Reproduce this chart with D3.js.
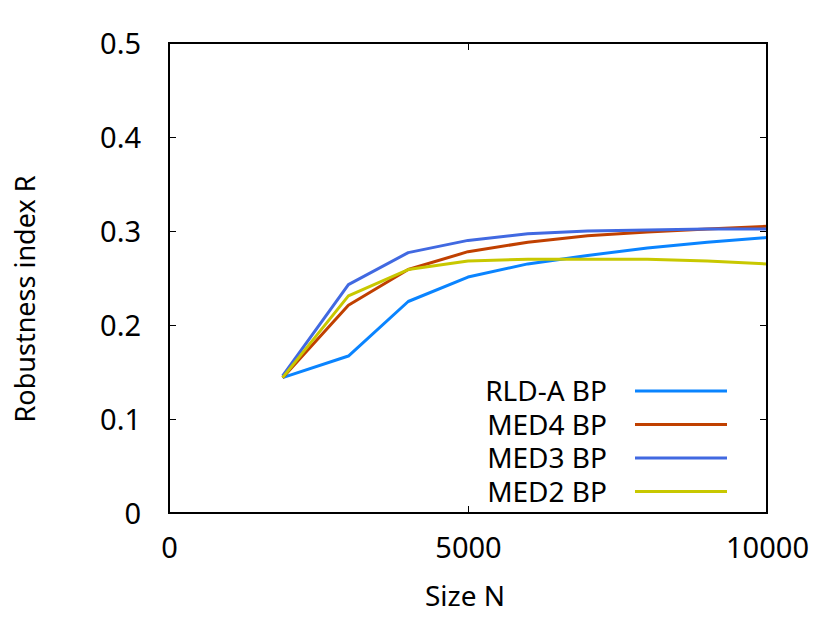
<!DOCTYPE html>
<html>
<head>
<meta charset="utf-8">
<script src="https://cdn.jsdelivr.net/npm/d3@7"></script>
<style>
body { margin: 0; background: #fff; }
text { font-family: "Noto Sans", sans-serif; fill: #000; }
</style>
</head>
<body>
<svg id="chart" width="830" height="623"></svg>
<script>
var sizes = [1900, 3000, 4000, 5000, 6000, 7000, 8000, 9000, 10000];
var rldA = [0.144, 0.167, 0.225, 0.251, 0.265, 0.274, 0.282, 0.288, 0.293];
var med4 = [0.144, 0.221, 0.259, 0.278, 0.288, 0.295, 0.299, 0.302, 0.305];
var med3 = [0.146, 0.243, 0.277, 0.290, 0.297, 0.300, 0.301, 0.302, 0.302];
var med2 = [0.144, 0.231, 0.259, 0.268, 0.270, 0.270, 0.270, 0.268, 0.265];
var seriesNames = ["RLD-A BP", "MED4 BP", "MED3 BP", "MED2 BP"];
var seriesColors = ["#0a84ff", "#c04000", "#4169e1", "#c8c800"];
var xTicks = [0, 5000, 10000];
var yTicks = [0, 0.1, 0.2, 0.3, 0.4, 0.5];

var svg = d3.select("#chart");
var pLeft = 169, pRight = 767, pTop = 43, pBottom = 513;

var x = d3.scaleLinear().domain([0, 10000]).range([pLeft, pRight]);
var y = d3.scaleLinear().domain([0, 0.5]).range([pBottom, pTop]);

var allSeries = [rldA, med4, med3, med2];

svg.append("defs").append("clipPath").attr("id", "clip")
  .append("rect").attr("x", pLeft).attr("y", pTop)
  .attr("width", pRight - pLeft).attr("height", pBottom - pTop);

var line = d3.line()
  .x(function (d, i) { return x(sizes[i]); })
  .y(function (d) { return y(d); });

svg.append("g").attr("clip-path", "url(#clip)")
  .selectAll("path")
  .data(allSeries)
  .join("path")
  .attr("fill", "none")
  .attr("stroke", function (d, i) { return seriesColors[i]; })
  .attr("stroke-width", 3)
  .attr("stroke-linejoin", "round")
  .attr("d", line);

// axes, ticks pointing inward (mirrored like gnuplot)
var yAxis = d3.axisLeft(y).tickValues(yTicks).tickSize(-7)
  .tickFormat(function (d) { return d === 0 ? "0" : d3.format(".1f")(d); });
var gy = svg.append("g").attr("transform", "translate(" + pLeft + ",0)").call(yAxis);
gy.select(".domain").remove();
gy.selectAll("text").attr("x", -28).attr("dy", "0.36em").style("font-size", "29px");

var yAxisR = d3.axisRight(y).tickValues(yTicks).tickSize(-7).tickFormat("");
var gyr = svg.append("g").attr("transform", "translate(" + pRight + ",0)").call(yAxisR);
gyr.select(".domain").remove();

var xAxis = d3.axisBottom(x).tickValues(xTicks).tickSize(-7)
  .tickFormat(d3.format("d"));
var gx = svg.append("g").attr("transform", "translate(0," + pBottom + ")").call(xAxis);
gx.select(".domain").remove();
gx.selectAll("text").attr("y", 45).attr("dy", 0).style("font-size", "29px");

var xAxisT = d3.axisTop(x).tickValues(xTicks).tickSize(-7).tickFormat("");
var gxt = svg.append("g").attr("transform", "translate(0," + pTop + ")").call(xAxisT);
gxt.select(".domain").remove();

svg.selectAll(".tick line").attr("stroke", "#000").attr("stroke-width", 1);

// frame
svg.append("rect")
  .attr("x", pLeft).attr("y", pTop)
  .attr("width", pRight - pLeft).attr("height", pBottom - pTop)
  .attr("fill", "none").attr("stroke", "#000").attr("stroke-width", 2);

// axis labels
svg.append("text")
  .attr("x", 465).attr("y", 606)
  .attr("text-anchor", "middle")
  .style("font-size", "28px")
  .text("Size N");

svg.append("text")
  .attr("transform", "translate(35,299) rotate(-90)")
  .attr("text-anchor", "middle")
  .style("font-size", "27px")
  .text("Robustness index R");

// legend
var legend = svg.append("g")
  .selectAll("g")
  .data(seriesNames)
  .join("g")
  .attr("transform", function (d, i) { return "translate(0," + (391 + i * 33.5) + ")"; });

legend.append("text")
  .attr("x", 607).attr("dy", "0.36em")
  .attr("text-anchor", "end")
  .style("font-size", "28px")
  .text(function (d) { return d; });

legend.append("line")
  .attr("x1", 635).attr("x2", 727)
  .attr("stroke", function (d, i) { return seriesColors[i]; })
  .attr("stroke-width", 3);
</script>
</body>
</html>
